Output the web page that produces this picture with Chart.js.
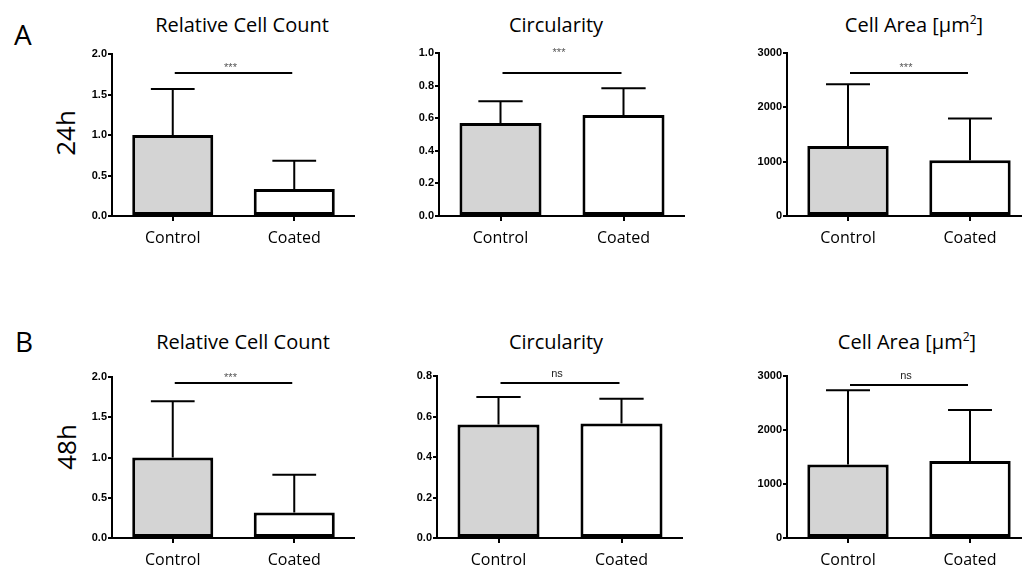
<!DOCTYPE html>
<html>
<head>
<meta charset="utf-8">
<script src="https://cdn.jsdelivr.net/npm/chart.js@4"></script>
<style>
  html, body { margin: 0; padding: 0; width: 1022px; height: 568px; overflow: hidden; background: #fff; }
  canvas { position: absolute; }
  .lbl { position: absolute; font-family: 'Open Sans', sans-serif; color: #000; white-space: nowrap; line-height: 1; }
  .title { font-size: 20px; transform: translateX(-50%); }
  .row { font-size: 26px; transform: translate(-50%, -50%) rotate(-90deg); }
  .letter { font-size: 28px; }
  sup { font-size: 12px; vertical-align: 8px; line-height: 0; }
</style>
</head>
<body>
<div class="lbl letter" style="left:14px; top:20px;">A</div>
<div class="lbl letter" style="left:15px; top:327px;">B</div>
<div class="lbl row" style="left:65px; top:133px;">24h</div>
<div class="lbl row" style="left:66px; top:447px;">48h</div>

<div class="lbl title" style="left:242px; top:15px;">Relative Cell Count</div>
<div class="lbl title" style="left:556px; top:15px;">Circularity</div>
<div class="lbl title" style="left:914px; top:15px;">Cell Area [μm<sup>2</sup>]</div>
<div class="lbl title" style="left:243px; top:332px;">Relative Cell Count</div>
<div class="lbl title" style="left:556px; top:332px;">Circularity</div>
<div class="lbl title" style="left:907px; top:332px;">Cell Area [μm<sup>2</sup>]</div>

<canvas id="c1"></canvas>
<canvas id="c2"></canvas>
<canvas id="c3"></canvas>
<canvas id="c4"></canvas>
<canvas id="c5"></canvas>
<canvas id="c6"></canvas>

<script>
// categorias
const categories = ['Control', 'Coated'];

// 24h
const countMean24 = [1.0, 0.333];
const countSd24 = [0.568, 0.35];
const circMean24 = [0.571, 0.62];
const circSd24 = [0.133, 0.163];
const areaMean24 = [1288, 1025];
const areaSd24 = [1136, 768];

// 48h
const countMean48 = [1.0, 0.317];
const countSd48 = [0.70, 0.47];
const circMean48 = [0.56, 0.565];
const circSd48 = [0.136, 0.123];
const areaMean48 = [1359, 1426];
const areaSd48 = [1376, 944];

// ejes y
const yMax = [2, 1, 3000, 2, 0.8, 3000];
const yStep = [0.5, 0.2, 1000, 0.5, 0.2, 1000];

// significancia
const sigLevel = [1.77, 0.876, 2626, 1.92, 0.764, 2828];
const sigText = ['***', '***', '***', '***', 'ns', 'ns'];
const sigLabelLevel = [null, 0.98, null, null, null, null];

// plot areas [left, top, right, bottom]
const areas = [
    [112, 54, 355, 216],
    [439, 53, 685, 216],
    [787, 53, 1031, 216],
    [112, 377, 355, 538],
    [437, 376, 683, 538],
    [787, 376, 1031, 538]
];

const means = [countMean24, circMean24, areaMean24, countMean48, circMean48, areaMean48];
const sds = [countSd24, circSd24, areaSd24, countSd48, circSd48, areaSd48];

const Y_AXIS_W = 40;
const X_AXIS_H = 40;
const TOP_PAD = 24;

const makeChart = i => {
    const [l, t, r, b] = areas[i];
    const canvas = document.getElementById('c' + (i + 1));
    canvas.width = Y_AXIS_W + (r - l);
    canvas.height = TOP_PAD + (b - t) + X_AXIS_H;
    canvas.style.left = (l - Y_AXIS_W) + 'px';
    canvas.style.top = (t - TOP_PAD) + 'px';

    const mean = means[i];
    const sd = sds[i];

    const errorBars = {
        id: 'errorBars' + i,
        afterDatasetsDraw(chart) {
            const { ctx, scales: { x, y } } = chart;
            const meta = chart.getDatasetMeta(0);
            ctx.save();
            ctx.strokeStyle = '#000';
            ctx.lineWidth = 2;
            meta.data.forEach((bar, k) => {
                const yBase = y.getPixelForValue(mean[k]);
                const yTop = y.getPixelForValue(mean[k] + sd[k]);
                const half = bar.width * 0.27;
                ctx.beginPath();
                ctx.moveTo(bar.x, yBase);
                ctx.lineTo(bar.x, yTop);
                ctx.moveTo(bar.x - half, yTop);
                ctx.lineTo(bar.x + half, yTop);
                ctx.stroke();
            });
            // linea de significancia
            const ys = Math.round(y.getPixelForValue(sigLevel[i]));
            const x0 = x.getPixelForValue(0) + 2;
            const x1 = x.getPixelForValue(1) - 2;
            ctx.beginPath();
            ctx.moveTo(x0, ys);
            ctx.lineTo(x1, ys);
            ctx.stroke();
            const txt = sigText[i];
            let yl;
            if (sigLabelLevel[i] !== null) {
                yl = y.getPixelForValue(sigLabelLevel[i]);
            } else {
                yl = txt === 'ns' ? ys - 6 : ys - 2;
            }
            ctx.fillStyle = txt === 'ns' ? '#222' : '#555';
            ctx.font = '11px "Liberation Sans", Arial, sans-serif';
            ctx.textAlign = 'center';
            ctx.textBaseline = 'alphabetic';
            ctx.fillText(txt, (x0 + x1) / 2 - 3, yl);
            ctx.restore();
        }
    };

    new Chart(canvas, {
        type: 'bar',
        data: {
            labels: categories,
            datasets: [{
                data: mean,
                backgroundColor: ['#d4d4d4', '#ffffff'],
                borderColor: '#000',
                borderWidth: 3,
                borderSkipped: false,
                barPercentage: 0.667,
                categoryPercentage: 1
            }]
        },
        options: {
            responsive: false,
            animation: false,
            layout: { padding: { top: TOP_PAD, left: 0, right: 0, bottom: 0 } },
            plugins: {
                legend: { display: false },
                title: { display: false },
                tooltip: { enabled: false }
            },
            scales: {
                x: {
                    offset: true,
                    ticks: {
                        color: '#000',
                        font: { family: 'Open Sans', size: 16 },
                        padding: 8
                    },
                    grid: {
                        display: true, offset: false, drawOnChartArea: false,
                        drawTicks: true, tickLength: 5, color: '#000', lineWidth: 2
                    },
                    border: { display: true, color: '#000', width: 2 },
                    afterFit: s => { s.height = X_AXIS_H; }
                },
                y: {
                    min: 0,
                    max: yMax[i],
                    ticks: {
                        stepSize: yStep[i],
                        color: '#000',
                        font: { family: 'Liberation Sans', size: 11, weight: 'bold' },
                        padding: 1,
                        callback: v => yMax[i] > 10 ? v : Number(v).toFixed(1)
                    },
                    grid: {
                        display: true, drawOnChartArea: false,
                        drawTicks: true, tickLength: 4, color: '#000', lineWidth: 2
                    },
                    border: { display: true, color: '#000', width: 2 },
                    afterFit: s => { s.width = Y_AXIS_W; }
                }
            }
        },
        plugins: [errorBars]
    });
}

for (let i = 0; i < 6; i++) makeChart(i);
</script>
</body>
</html>
